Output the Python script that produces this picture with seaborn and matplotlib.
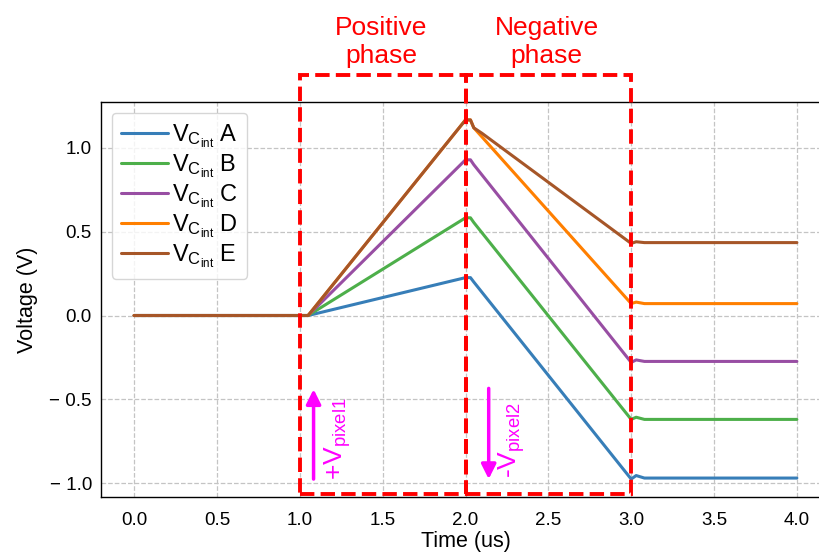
import pandas as pd
import matplotlib
matplotlib.use("Agg")
import matplotlib.pyplot as plt
import seaborn as sns
from matplotlib.patches import Rectangle

# time axis (us) shared by all five curves
time_us = [0.0, 1.05, 2.0, 2.03, 2.05, 2.10, 3.0, 3.03, 3.08, 4.0]

# integrator voltages
v_a = [0, 0, 0.226, 0.226, 0.200, 0.138, -0.976, -0.955, -0.970, -0.970]
v_b = [0, 0, 0.583, 0.583, 0.555, 0.493, -0.620, -0.607, -0.620, -0.620]
v_c = [0, 0, 0.929, 0.929, 0.900, 0.838, -0.280, -0.265, -0.274, -0.274]
v_d = [0, 0, 1.167, 1.167, 1.120, 1.065, 0.071, 0.080, 0.071, 0.071]
v_e = [0, 0, 1.167, 1.167, 1.120, 1.087, 0.430, 0.440, 0.435, 0.435]

series_names = ["A", "B", "C", "D", "E"]
series_colors = ["#377eb8", "#4daf4a", "#984ea3", "#ff7f00", "#a65628"]

xticks = [0.0, 0.5, 1.0, 1.5, 2.0, 2.5, 3.0, 3.5, 4.0]
yticks = [-1.0, -0.5, 0.0, 0.5, 1.0]
ytick_labels = ["\u2212 1.0", "\u2212 0.5", "0.0", "0.5", "1.0"]

phase_labels = ["Positive\nphase", "Negative\nphase"]
phase_starts = [1.0, 2.0]

# long-form frame for seaborn
rows = []
for name, vals in zip(series_names, [v_a, v_b, v_c, v_d, v_e]):
    label = r"V$_{C_{int}}$ " + name
    for t, v in zip(time_us, vals):
        rows.append({"Time": t, "Voltage": v, "series": label})
df = pd.DataFrame(rows)
labels = df["series"].unique()

sns.set_style("white")
plt.rcParams["font.family"] = ["Liberation Sans", "DejaVu Sans"]
plt.rcParams["mathtext.fontset"] = "custom"
plt.rcParams["mathtext.rm"] = "Liberation Sans"
plt.rcParams["mathtext.default"] = "regular"
for k in ["text.color", "axes.labelcolor", "xtick.color", "ytick.color"]:
    plt.rcParams[k] = "black"

fig = plt.figure(figsize=(8.19, 5.52), dpi=100)
ax = fig.add_axes([101 / 819, 1 - 497 / 552, (830 - 101) / 819, (497 - 102) / 552])

sns.lineplot(data=df, x="Time", y="Voltage", hue="series",
             palette=dict(zip(labels, series_colors)), linewidth=2.2, ax=ax)

ax.set_xlim(-0.2, 4.2)
ax.set_ylim(-1.083, 1.274)
ax.set_xticks(xticks)
ax.set_yticks(yticks)
ax.set_yticklabels(ytick_labels)
ax.tick_params(labelsize=13.5, length=3, color="#999999")
ax.tick_params(axis="x", pad=8)
ax.grid(True, linestyle="--", color="#c4c4c4", linewidth=0.9)
for s in ax.spines.values():
    s.set_color("black")
    s.set_linewidth(1.0)
ax.set_xlabel("Time (us)", fontsize=15.5, labelpad=1)
ax.set_ylabel("Voltage (V)", fontsize=15.5, labelpad=8)

ax.legend(loc="upper left", fontsize=17, title=None, handlelength=2.0,
          labelspacing=0.1, borderpad=0.4, handletextpad=0.15,
          borderaxespad=0.45)

# dashed phase boxes sticking out above the axes
for x0, txt in zip(phase_starts, phase_labels):
    ax.add_patch(Rectangle((x0, -1.068), 1.0, 1.435 + 1.068, fill=False,
                           edgecolor="red", linestyle="--", linewidth=2.8,
                           clip_on=False, zorder=5))
    ax.text(x0 + 0.49, 1.63, txt, color="red", fontsize=19,
            ha="center", va="center", clip_on=False)

# pixel current arrows
ax.annotate("", xy=(1.083, -0.44), xytext=(1.083, -0.976),
            arrowprops=dict(arrowstyle="-|>", color="magenta", lw=2.5,
                            mutation_scale=22, shrinkA=0, shrinkB=0))
ax.text(1.23, -0.738, r"+V$_{pixel1}$", color="magenta", fontsize=19,
        rotation=90, ha="center", va="center")
ax.annotate("", xy=(2.14, -0.976), xytext=(2.14, -0.435),
            arrowprops=dict(arrowstyle="-|>", color="magenta", lw=2.5,
                            mutation_scale=22, shrinkA=0, shrinkB=0))
ax.text(2.28, -0.745, r"-V$_{pixel2}$", color="magenta", fontsize=19,
        rotation=90, ha="center", va="center")

fig.savefig("out.png", dpi=100)
